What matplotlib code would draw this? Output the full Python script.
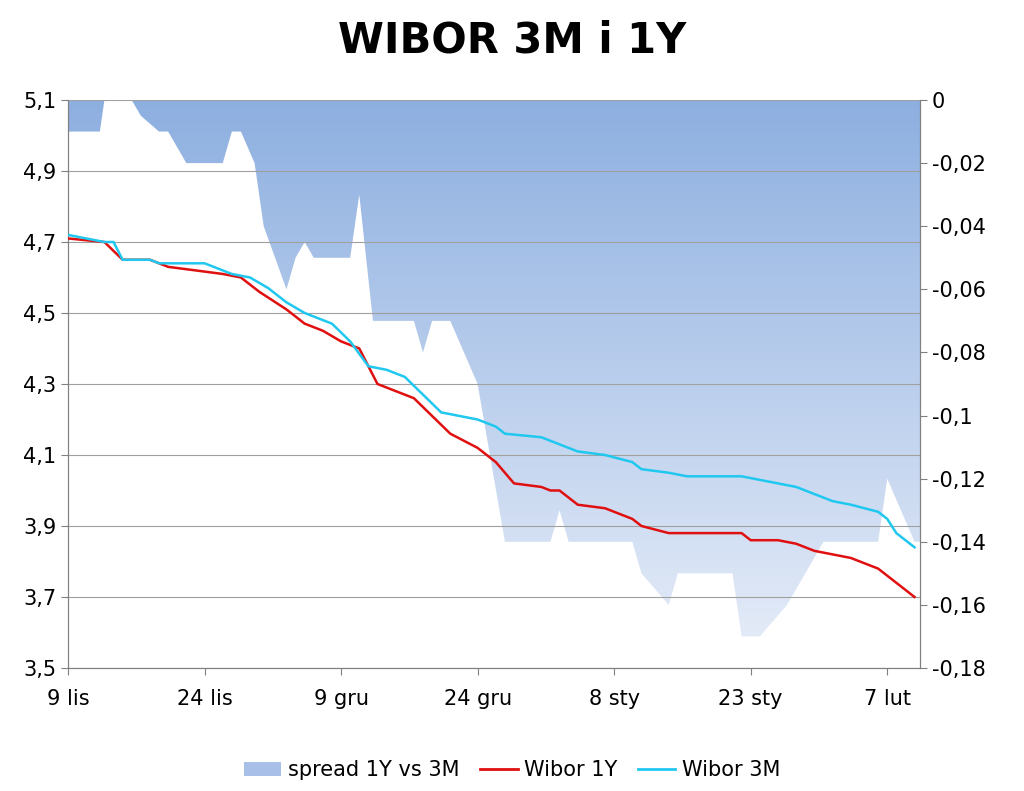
import numpy as np
import matplotlib
matplotlib.use("Agg")
import matplotlib.pyplot as plt
from matplotlib.patches import Polygon, Patch
from matplotlib.lines import Line2D
from matplotlib.colors import LinearSegmentedColormap

days3m = [0,4,5,6,9,10,15,18,20,22,24,26,29,31,33,35,37,39,41,45,47,48,52,54,56,59,62,63,66,68,74,76,80,83,84,86,89,90,91,93]
w3m = [4.72,4.70,4.70,4.65,4.65,4.64,4.64,4.61,4.60,4.57,4.53,4.50,4.47,4.42,4.35,4.34,4.32,4.27,4.22,4.20,4.18,4.16,4.15,4.13,4.11,4.10,4.08,4.06,4.05,4.04,4.04,4.03,4.01,3.98,3.97,3.96,3.94,3.92,3.88,3.84]
days1y = [0,4,6,9,11,14,17,19,21,24,26,28,30,32,34,36,38,40,42,45,47,49,52,53,54,56,59,62,63,66,74,75,78,80,82,84,86,89,91,93]
w1y = [4.71,4.70,4.65,4.65,4.63,4.62,4.61,4.60,4.56,4.51,4.47,4.45,4.42,4.40,4.30,4.28,4.26,4.21,4.16,4.12,4.08,4.02,4.01,4.00,4.00,3.96,3.95,3.92,3.90,3.88,3.88,3.86,3.86,3.85,3.83,3.82,3.81,3.78,3.74,3.70]
days_sp = [0,0.9,3.5,4,7,8,10,11,13,13.5,17,18,19,20.5,21.5,24,25,26,27,31,32,33.5,34,38,39,40,42,45,48,53,54,55,62,63,66,67,73,74,76,79,81,83,89,90,93]
spread = [-0.01,-0.01,-0.01,0,0,-0.005,-0.01,-0.01,-0.02,-0.02,-0.02,-0.01,-0.01,-0.02,-0.04,-0.06,-0.05,-0.045,-0.05,-0.05,-0.03,-0.07,-0.07,-0.07,-0.08,-0.07,-0.07,-0.09,-0.14,-0.14,-0.13,-0.14,-0.14,-0.15,-0.16,-0.15,-0.15,-0.17,-0.17,-0.16,-0.15,-0.14,-0.14,-0.12,-0.14]
tick_days = [0,15,30,45,60,75,90]
tick_labels = ["9 lis","24 lis","9 gru","24 gru","8 sty","23 sty","7 lut"]
left_ticks = [3.5,3.7,3.9,4.1,4.3,4.5,4.7,4.9,5.1]
right_ticks = [0,-0.02,-0.04,-0.06,-0.08,-0.1,-0.12,-0.14,-0.16,-0.18]

fig = plt.figure(figsize=(10.24,7.91), dpi=100)
ax = fig.add_axes([68/1024, 1-668/791, (920-68)/1024, 568/791])
ax2 = ax.twinx()
xmax = 93.6
grad = np.linspace(0,1,256).reshape(-1,1)
cmap = LinearSegmentedColormap.from_list("g", ["#8DAFE0", "#E8EEF9"])
im = ax2.imshow(grad, cmap=cmap, aspect="auto", extent=[0,xmax,-0.18,0], origin="upper", zorder=0)
poly = Polygon([(0,0)] + list(zip(days_sp, spread)) + [(xmax, spread[-1]), (xmax,0)], closed=True, transform=ax2.transData, facecolor="none", edgecolor="none")
ax2.add_patch(poly)
im.set_clip_path(poly)
ax2.set_ylim(-0.18,0)
ax2.set_yticks(right_ticks)
ax2.set_yticklabels([("%g" % t).replace(".",",") for t in right_ticks])
ax.set_zorder(ax2.get_zorder()+1); ax.patch.set_visible(False)
for t in left_ticks:
    ax.axhline(t, color="#a0a0a0", lw=0.8, zorder=1)
ax.plot(days1y, w1y, color="#E01010", lw=1.8, zorder=3)
ax.plot(days3m, w3m, color="#20C8F0", lw=1.8, zorder=3)
ax.set_xlim(0,xmax); ax.set_ylim(3.5,5.1)
ax2.set_xlim(0,xmax)
ax.set_yticks(left_ticks)
ax.set_yticklabels([f"{t:.1f}".replace(".",",") for t in left_ticks])
ax.set_xticks(tick_days); ax.set_xticklabels(tick_labels)
for a in (ax, ax2):
    a.tick_params(labelsize=15, direction="out", length=5, color="#808080")
    for s in a.spines.values(): s.set_color("#808080")
ax.spines["top"].set_visible(False); ax2.spines["top"].set_visible(False)
ax.tick_params(axis="x", pad=10)
fig.suptitle("WIBOR 3M i 1Y", y=0.975, fontsize=30, fontweight="bold")
handles = [Patch(facecolor="#A8C0E8", edgecolor="none"), Line2D([],[],color="#E01010",lw=2), Line2D([],[],color="#20C8F0",lw=2)]
fig.legend(handles, ["spread 1Y vs 3M","Wibor 1Y","Wibor 3M"], loc="lower center", bbox_to_anchor=(0.5,-0.01), ncol=3, frameon=False, fontsize=15, handlelength=1.8, columnspacing=1.0, handletextpad=0.3)
fig.savefig("out.png", dpi=100)
